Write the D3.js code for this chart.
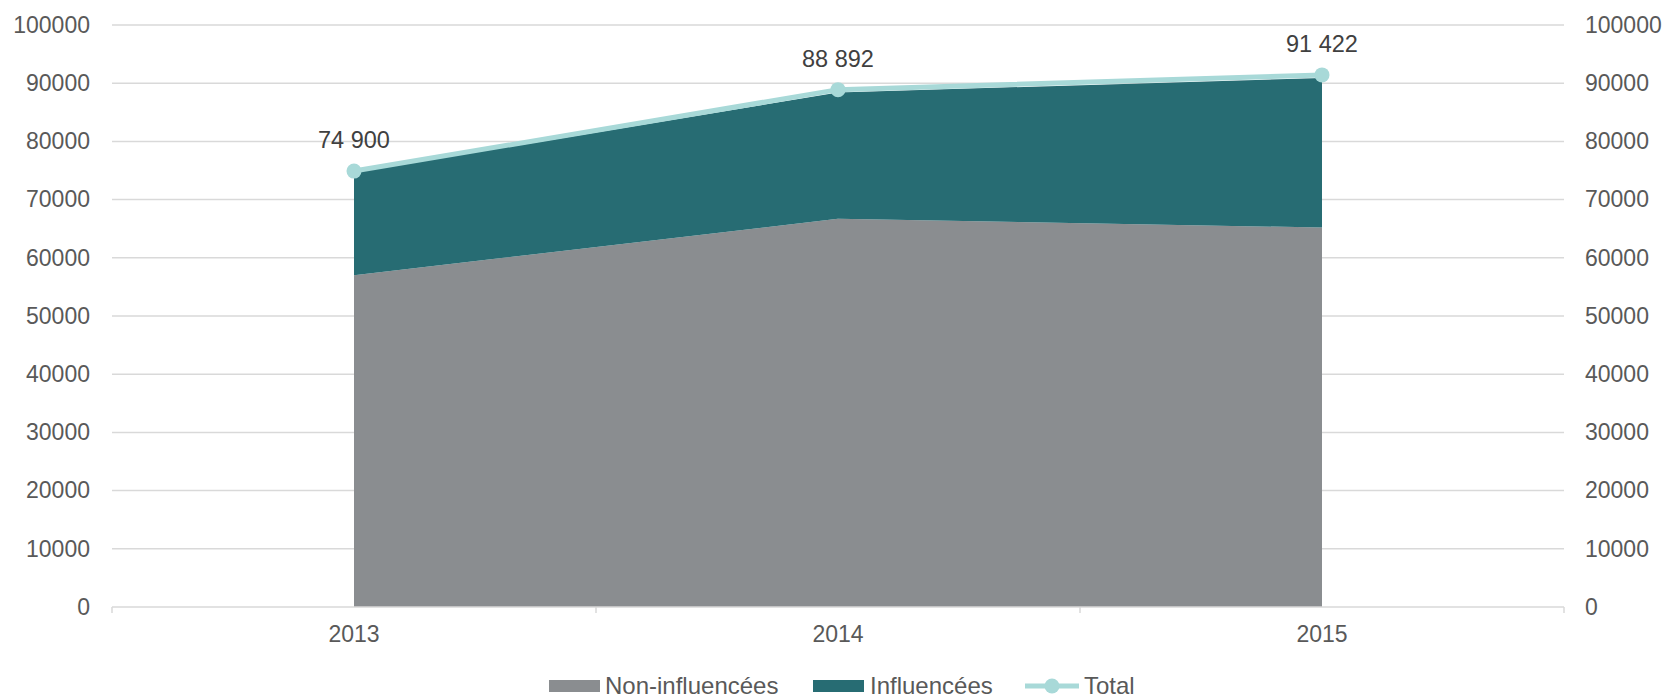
<!DOCTYPE html>
<html>
<head>
<meta charset="utf-8">
<script src="https://cdn.jsdelivr.net/npm/d3@7"></script>
<style>
  body { margin: 0; background: #fff; }
  text { font-family: "Liberation Sans", Arial, sans-serif; }
</style>
</head>
<body>
<script>
// data
const years = ["2013", "2014", "2015"];
const nonInfluencees = [57000, 66700, 65200];
const influencees = [17700, 21700, 25700];
const totals = [74900, 88892, 91422];
const totalLabels = ["74 900", "88 892", "91 422"];
const yTicks = [0, 10000, 20000, 30000, 40000, 50000, 60000, 70000, 80000, 90000, 100000];
const seriesNames = ["Non-influencées", "Influencées", "Total"];

const W = 1667, H = 698;
const margin = {top: 25, right: 103, bottom: 91, left: 112};

const colors = {non: "#8a8d90", inf: "#276c73", total: "#a8d9d8", grid: "#d9d9d9", text: "#595959"};

const svg = d3.select("body").append("svg")
    .attr("width", W)
    .attr("height", H);

const x = d3.scaleBand()
    .domain(years)
    .range([margin.left, W - margin.right])
    .padding(0);
const cx = d => x(d) + x.bandwidth() / 2;

const y = d3.scaleLinear()
    .domain([0, 100000])
    .range([H - margin.bottom, margin.top]);

// grid lines
svg.append("g").selectAll("line")
    .data(yTicks.filter(t => t > 0))
    .enter().append("line")
    .attr("x1", margin.left)
    .attr("x2", W - margin.right)
    .attr("y1", d => y(d))
    .attr("y2", d => y(d))
    .attr("stroke", colors.grid)
    .attr("stroke-width", 1.5);

// left / right axes (labels only)
const fmt = d3.format("d");
const yl = svg.append("g")
    .attr("transform", "translate(" + (margin.left - 22) + ",0)")
    .call(d3.axisLeft(y).tickValues(yTicks).tickSize(0).tickFormat(fmt));
const yr = svg.append("g")
    .attr("transform", "translate(" + (W - margin.right + 21) + ",0)")
    .call(d3.axisRight(y).tickValues(yTicks).tickSize(0).tickFormat(fmt));
[yl, yr].forEach(g => {
    g.select(".domain").remove();
    g.selectAll("text")
        .attr("x", 0)
        .attr("fill", colors.text)
        .style("font-size", "23px");
});

// stacked areas
const rows = years.map((yr, i) => ({year: yr, non: nonInfluencees[i], inf: influencees[i]}));
const stack = d3.stack().keys(["non", "inf"]);
const layers = stack(rows);

const area = d3.area()
    .x(d => cx(d.data.year))
    .y0(d => y(d[0]))
    .y1(d => y(d[1]));

svg.append("g").selectAll("path")
    .data(layers)
    .enter().append("path")
    .attr("d", area)
    .attr("fill", d => d.key === "non" ? colors.non : colors.inf);

// x axis line + ticks at band edges
const xBase = y(0);
svg.append("line")
    .attr("x1", margin.left)
    .attr("x2", W - margin.right)
    .attr("y1", xBase)
    .attr("y2", xBase)
    .attr("stroke", colors.grid)
    .attr("stroke-width", 1.5);
const edges = years.map(d => x(d)).concat([x.range()[1]]);
svg.append("g").selectAll("line")
    .data(edges)
    .enter().append("line")
    .attr("x1", d => d)
    .attr("x2", d => d)
    .attr("y1", xBase)
    .attr("y2", xBase + 6)
    .attr("stroke", colors.grid)
    .attr("stroke-width", 1.5);

svg.append("g").selectAll("text")
    .data(years)
    .enter().append("text")
    .attr("x", d => cx(d))
    .attr("y", xBase + 35)
    .attr("text-anchor", "middle")
    .attr("fill", colors.text)
    .style("font-size", "23px")
    .text(d => d);

// total line
const totalPts = years.map((yr, i) => ({year: yr, v: totals[i], label: totalLabels[i]}));
const line = d3.line()
    .x(d => cx(d.year))
    .y(d => y(d.v));

svg.append("path")
    .datum(totalPts)
    .attr("d", line)
    .attr("fill", "none")
    .attr("stroke", colors.total)
    .attr("stroke-width", 5);

svg.append("g").selectAll("circle")
    .data(totalPts)
    .enter().append("circle")
    .attr("cx", d => cx(d.year))
    .attr("cy", d => y(d.v))
    .attr("r", 7.5)
    .attr("fill", colors.total);

svg.append("g").selectAll("text")
    .data(totalPts)
    .enter().append("text")
    .attr("x", d => cx(d.year))
    .attr("y", d => y(d.v) - 23)
    .attr("text-anchor", "middle")
    .attr("fill", "#404040")
    .style("font-size", "23.5px")
    .text(d => d.label);

// legend
const legY = 686;
const legend = svg.append("g");
const legItems = [
    {name: seriesNames[0], type: "rect", color: colors.non, x0: 549, tx: 605},
    {name: seriesNames[1], type: "rect", color: colors.inf, x0: 813, tx: 870},
    {name: seriesNames[2], type: "line", color: colors.total, x0: 1025, tx: 1084}
];
legItems.forEach(it => {
    if (it.type === "rect") {
        legend.append("rect")
            .attr("x", it.x0)
            .attr("y", legY - 6)
            .attr("width", 51)
            .attr("height", 12)
            .attr("fill", it.color);
    } else {
        legend.append("line")
            .attr("x1", it.x0)
            .attr("x2", it.x0 + 54)
            .attr("y1", legY)
            .attr("y2", legY)
            .attr("stroke", it.color)
            .attr("stroke-width", 5);
        legend.append("circle")
            .attr("cx", it.x0 + 27)
            .attr("cy", legY)
            .attr("r", 7.5)
            .attr("fill", it.color);
    }
    legend.append("text")
        .attr("x", it.tx)
        .attr("y", legY + 8)
        .attr("fill", colors.text)
        .style("font-size", "24px")
        .text(it.name);
});
</script>
</body>
</html>
